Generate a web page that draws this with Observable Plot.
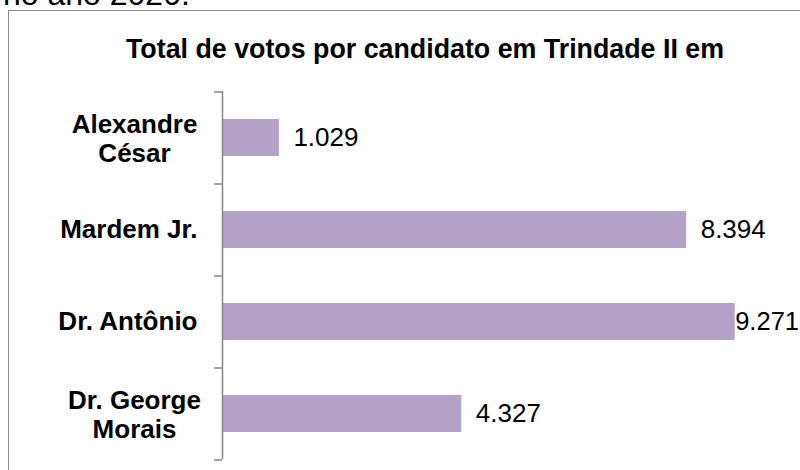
<!DOCTYPE html>
<html>
<head>
<meta charset="utf-8">
<script src="https://cdn.jsdelivr.net/npm/d3@7"></script>
<script src="https://cdn.jsdelivr.net/npm/@observablehq/plot@0.6"></script>
<style>
  html, body { margin: 0; padding: 0; background: #fff; overflow: hidden; width: 800px; height: 470px; }
  #wrap { position: relative; width: 800px; height: 470px; overflow: hidden; font-family: "Liberation Sans", Arial, sans-serif; }
  #chart { position: absolute; left: 0; top: 0; }
  #pre { position: absolute; left: 3px; top: -22px; font-size: 32px; line-height: 32px; color: #000; white-space: nowrap; }
  #frame { position: absolute; left: 8px; top: 10px; width: 900px; height: 600px; border: 1.5px solid #8a8a8a; box-sizing: border-box; pointer-events: none; }
  #title { position: absolute; left: 0; top: 36px; width: 850px; text-align: center; font-size: 26.8px; line-height: 26.8px; font-weight: bold; color: #000; white-space: nowrap; }
</style>
</head>
<body>
<div id="wrap">
  <div id="pre">no ano 2020.</div>
  <div id="chart"></div>
  <div id="frame"></div>
  <div id="title">Total de votos por candidato em Trindade II em</div>
</div>
<script>
const candidatos = ["Alexandre\nCésar", "Mardem Jr.", "Dr. Antônio", "Dr. George\nMorais"];
const votos = [1029, 8394, 9271, 4327];
const dominioX = [0, 10000];

const ptBR = d3.formatLocale({decimal: ",", thousands: ".", grouping: [3], currency: ["R$", ""]});
const fmt = ptBR.format(",d");

const data = candidatos.map((c, i) => ({candidato: c, votos: votos[i], multi: c.includes("\n")}));

const W = 800, H = 470, mTop = 91, mBottom = 11, mLeft = 222, mRight = 25;
const step = (H - mTop - mBottom) / candidatos.length;
const axisColor = "#868686";

const chart = Plot.plot({
  width: W,
  height: H,
  marginTop: mTop,
  marginBottom: mBottom,
  marginLeft: mLeft,
  marginRight: mRight,
  style: {fontFamily: "'Liberation Sans', Arial, sans-serif", background: "transparent", overflow: "visible"},
  x: {domain: dominioX, axis: null},
  y: {domain: candidatos, type: "band", paddingInner: 0.6, paddingOuter: 0.3, axis: null},
  marks: [
    Plot.barX(data, {x: "votos", y: "candidato", fill: "#B3A2C7", insetLeft: 1}),
    Plot.ruleX([0], {stroke: axisColor, strokeWidth: 1.5}),
    Plot.ruleY(candidatos, {y: d => d, x1: 0, x2: 0, insetLeft: -8, dy: -step / 2, stroke: axisColor, strokeWidth: 1.5}),
    Plot.ruleY(candidatos.slice(-1), {y: d => d, x1: 0, x2: 0, insetLeft: -8, dy: step / 2, stroke: axisColor, strokeWidth: 1.5}),
    Plot.text(data.filter(d => !d.multi), {y: "candidato", text: "candidato", frameAnchor: "left", dx: -25, textAnchor: "end", fontSize: 26, fontWeight: "bold", fill: "#000"}),
    Plot.text(data.filter(d => d.multi), {y: "candidato", text: "candidato", frameAnchor: "left", dx: -88, textAnchor: "middle", fontSize: 26, fontWeight: "bold", lineHeight: 1.13, fill: "#000"}),
    Plot.text(data.filter(d => d.votos < 9000), {x: "votos", y: "candidato", text: d => fmt(d.votos), dx: 14, textAnchor: "start", fontSize: 26, fill: "#000"}),
    Plot.text(data.filter(d => d.votos >= 9000), {x: "votos", y: "candidato", text: d => fmt(d.votos), dx: 0, textAnchor: "start", fontSize: 25.5, fill: "#000"})
  ]
});
document.getElementById("chart").appendChild(chart);
</script>
</body>
</html>
